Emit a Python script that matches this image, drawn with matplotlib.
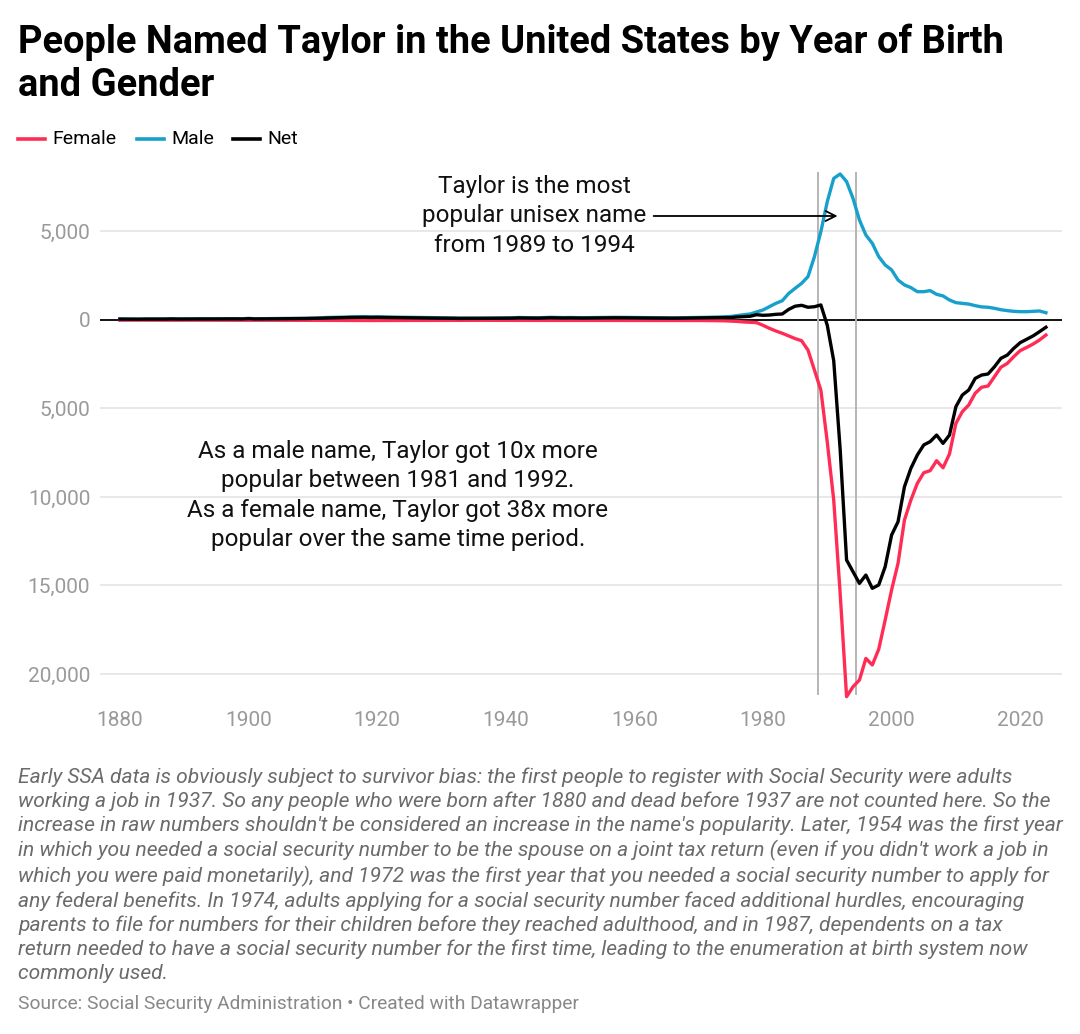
import matplotlib
matplotlib.use("Agg")
import matplotlib.pyplot as plt
import numpy as np

plt.rcParams['font.family'] = ['Roboto', 'DejaVu Sans']

# Year of birth, 1880 - 2024
years = np.arange(1880, 2025)

# Males named Taylor
male = [
    60, 55, 58, 52, 60, 58, 55, 60, 70, 62,
    65, 60, 70, 68, 65, 70, 72, 70, 75, 68,
    90, 70, 75, 80, 82, 85, 88, 90, 95, 100,
    110, 115, 140, 150, 160, 170, 175, 180, 185, 175,
    180, 170, 165, 160, 150, 145, 140, 135, 130, 125,
    120, 115, 110, 105, 110, 108, 110, 112, 118, 115,
    120, 125, 140, 135, 130, 125, 140, 150, 140, 135,
    140, 135, 130, 135, 140, 140, 145, 150, 150, 145,
    140, 140, 135, 130, 130, 125, 120, 125, 130, 135,
    # 1970s
    140, 150, 160, 170, 180, 200, 250, 300, 340, 450,
    # 1980s
    565, 750, 940, 1090, 1500, 1790, 2070, 2450, 3580, 4990,
    # 1990s
    6690, 8000, 8250, 7820, 6870, 5650, 4800, 4330, 3580, 3110,
    # 2000s
    2830, 2260, 1980, 1830, 1600, 1600, 1660, 1450, 1360, 1130,
    # 2010s
    980, 940, 900, 810, 740, 720, 660, 580, 530, 490,
    # 2020s
    470, 470, 490, 510, 410,
]

# Females named Taylor
female = [
    10, 8, 9, 8, 10, 9, 8, 10, 12, 10,
    11, 10, 12, 11, 10, 12, 12, 11, 13, 11,
    15, 12, 13, 13, 14, 14, 15, 15, 16, 17,
    18, 20, 24, 26, 28, 30, 30, 32, 32, 30,
    30, 28, 27, 26, 25, 24, 23, 22, 22, 21,
    20, 19, 18, 18, 18, 18, 18, 19, 20, 19,
    20, 21, 24, 23, 22, 21, 24, 26, 24, 23,
    24, 23, 22, 23, 24, 24, 25, 26, 26, 25,
    24, 24, 23, 22, 22, 21, 20, 21, 22, 23,
    25, 30, 35, 40, 45, 60, 80, 110, 130, 150,
    300, 470, 620, 750, 900, 1050, 1170, 1700, 2830, 3960,
    6900, 10170, 15440, 21280, 20720, 20340, 19120, 19490, 18600, 16950,
    15250, 13750, 11300, 10170, 9230, 8630, 8510, 7950, 8350, 7570,
    5840, 5180, 4800, 4140, 3800, 3730, 3200, 2670, 2450, 2070,
    1730, 1550, 1360, 1130, 850,
]

# Net (male minus female), as drawn
net = [
    50, 47, 49, 44, 50, 49, 47, 50, 58, 52,
    54, 50, 58, 57, 55, 58, 60, 59, 62, 57,
    75, 58, 62, 67, 68, 71, 73, 75, 79, 83,
    92, 95, 116, 124, 132, 140, 145, 148, 153, 145,
    150, 142, 138, 134, 125, 121, 117, 113, 108, 104,
    100, 96, 92, 87, 92, 90, 92, 93, 98, 96,
    100, 104, 116, 112, 108, 104, 116, 124, 116, 112,
    116, 112, 108, 112, 116, 116, 120, 124, 124, 120,
    116, 116, 112, 108, 108, 104, 100, 104, 108, 112,
    115, 120, 125, 130, 135, 140, 170, 190, 210, 300,
    265, 280, 320, 340, 600, 780, 830, 720, 750, 850,
    -300, -2300, -7300, -13560, -14220, -14880, -14410, -15160, -14970, -13940,
    -12150, -11400, -9420, -8380, -7630, -7060, -6870, -6500, -6970, -6500,
    -4900, -4240, -3955, -3300, -3110, -3050, -2640, -2165, -1980, -1600,
    -1280, -1090, -900, -660, -410,
]

yticks = [5000, 0, -5000, -10000, -15000, -20000]
ytick_labels = ["5,000", "0", "5,000", "10,000", "15,000", "20,000"]
xticks = [1880, 1900, 1920, 1940, 1960, 1980, 2000, 2020]
marker_years = [1988.5, 1994.4]

RED = '#ff2d55'
BLUE = '#18a0cd'

fig = plt.figure(figsize=(10.8, 10.34), dpi=100)
ax = fig.add_axes([100 / 1080, 1 - 700 / 1034, 962 / 1080, 535 / 1034])

ax.set_xlim(1876.9, 2026.5)
ax.set_ylim(-21469, 8757)

# grid + zero line
for t in yticks:
    if t != 0:
        ax.axhline(t, color='#e2e2e2', lw=1.1, zorder=0)
ax.axhline(0, color='black', lw=1.3, zorder=1)

# highlight the unisex period
ax.vlines(marker_years, -21190, 8360, color='#b5b5b5', lw=1.4, zorder=1)

ax.plot(years, -np.array(female), color=RED, lw=2.4, zorder=3, solid_joinstyle='round')
ax.plot(years, male, color=BLUE, lw=2.4, zorder=3, solid_joinstyle='round')
ax.plot(years, net, color='black', lw=2.4, zorder=4, solid_joinstyle='round')

ax.set_yticks(yticks)
ax.set_yticklabels(ytick_labels)
ax.set_xticks(xticks)
ax.tick_params(length=0, labelsize=15, labelcolor='#9a9a9a')
ax.tick_params(axis='y', pad=7)
ax.tick_params(axis='x', pad=8)
for s in ax.spines.values():
    s.set_visible(False)

# annotations
ax.text(1944.4, 5876, "Taylor is the most\npopular unisex name\nfrom 1989 to 1994",
        ha='center', va='center', fontsize=17.5, linespacing=1.36, color='#111111')
ax.annotate('', xy=(1991.6, 5876), xytext=(1963.0, 5876),
            arrowprops=dict(arrowstyle='->', lw=1.3, color='black',
                            mutation_scale=18, shrinkA=0, shrinkB=0))
ax.text(1923.2, -9915,
        "As a male name, Taylor got 10x more\npopular between 1981 and 1992.\n"
        "As a female name, Taylor got 38x more\npopular over the same time period.",
        ha='center', va='center', fontsize=17.5, linespacing=1.36, color='#111111')

# title
fig.text(18 / 1080, 1 - 24 / 1034,
         "People Named Taylor in the United States by Year of Birth\nand Gender",
         ha='left', va='top', fontsize=27.4, fontweight='bold', linespacing=1.2)

# legend
leg_y = 1 - 139 / 1034
for x0, col, lab in [(18, RED, "Female"), (137, BLUE, "Male"), (233, 'black', "Net")]:
    fig.add_artist(plt.Line2D([x0 / 1080, (x0 + 27) / 1080], [leg_y, leg_y],
                              color=col, lw=2.6, transform=fig.transFigure))
    fig.text((x0 + 34) / 1080, leg_y, lab, ha='left', va='center', fontsize=14)

notes = (
    "Early SSA data is obviously subject to survivor bias: the first people to register with Social Security were adults\n"
    "working a job in 1937. So any people who were born after 1880 and dead before 1937 are not counted here. So the\n"
    "increase in raw numbers shouldn't be considered an increase in the name's popularity. Later, 1954 was the first year\n"
    "in which you needed a social security number to be the spouse on a joint tax return (even if you didn't work a job in\n"
    "which you were paid monetarily), and 1972 was the first year that you needed a social security number to apply for\n"
    "any federal benefits. In 1974, adults applying for a social security number faced additional hurdles, encouraging\n"
    "parents to file for numbers for their children before they reached adulthood, and in 1987, dependents on a tax\n"
    "return needed to have a social security number for the first time, leading to the enumeration at birth system now\n"
    "commonly used."
)
fig.text(18 / 1080, 1 - 767 / 1034, notes, ha='left', va='top', fontsize=15.1,
         style='italic', color='#6b6b6b', linespacing=1.3)
fig.text(18 / 1080, 1 - 1004 / 1034,
         "Source: Social Security Administration \u2022 Created with Datawrapper",
         ha='left', va='center', fontsize=13.8, color='#888888')

fig.savefig("out.png", dpi=100)
